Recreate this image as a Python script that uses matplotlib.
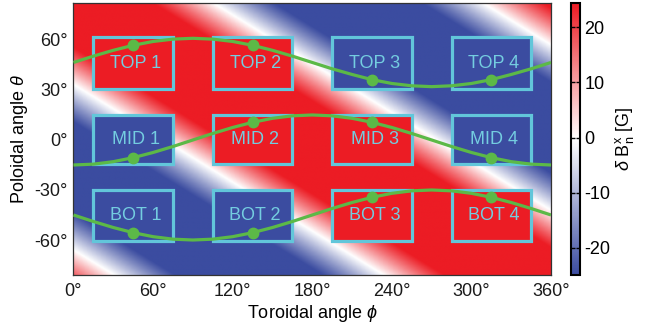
import numpy as np
import matplotlib
matplotlib.use('Agg')
import matplotlib.pyplot as plt
from matplotlib.colors import LinearSegmentedColormap
from matplotlib.patches import Rectangle

plt.rcParams['font.family'] = ['Liberation Sans', 'DejaVu Sans']
plt.rcParams['mathtext.fontset'] = 'custom'
plt.rcParams['mathtext.rm'] = 'Liberation Sans'
plt.rcParams['mathtext.it'] = 'Liberation Sans:italic'
plt.rcParams['axes.unicode_minus'] = False

# Données
coil_rows = ['TOP', 'MID', 'BOT']
coil_phi = [45, 135, 225, 315]                 # centres toroidaux des bobines
coil_theta_range = {'TOP': (30.5, 61.5), 'MID': (-14.5, 15.0), 'BOT': (-60.5, -30.0)}
coil_sign = {'TOP': [1, 1, -1, -1], 'MID': [-1, 1, 1, -1], 'BOT': [-1, -1, 1, 1]}
coil_half_width = 30

# courbes vertes (theta lu tous les 15 deg en phi)
curve_phi = list(range(0, 361, 15))
curve_top = [46.5, 50.3, 53.8, 56.8, 59.1, 60.5, 61.0, 60.5, 59.1, 56.8, 53.8, 50.3, 46.5,
             42.7, 39.3, 36.2, 33.9, 32.5, 32.0, 32.5, 33.9, 36.2, 39.3, 42.7, 46.5]
curve_mid = [-15.0, -14.5, -13.0, -10.6, -7.5, -3.9, 0.0, 3.9, 7.5, 10.6, 13.0, 14.5, 15.0,
             14.5, 13.0, 10.6, 7.5, 3.9, 0.0, -3.9, -7.5, -10.6, -13.0, -14.5, -15.0]
curve_bot = [-45.0, -48.9, -52.5, -55.6, -58.0, -59.5, -60.0, -59.5, -58.0, -55.6, -52.5, -48.9, -45.0,
             -41.1, -37.5, -34.4, -32.0, -30.5, -30.0, -30.5, -32.0, -34.4, -37.5, -41.1, -45.0]
curves = {'TOP': curve_top, 'MID': curve_mid, 'BOT': curve_bot}

# champ de fond : modele helicoidal ajuste sur les lignes blanches
field_amp = 38.0      # G
n_tor = 0.88
m_pol = 1.8
phase = -60.5         # deg
vmin, vmax = -25, 24.4

xticks = [0, 60, 120, 180, 240, 300, 360]
yticks = [-60, -30, 0, 30, 60]
cbar_ticks = [-20, -10, 0, 10, 20]

red = '#ec1c24'
blue = '#3b4ca0'
cyan = '#62c6da'
green = '#5cb947'

cmap = LinearSegmentedColormap.from_list('bwr_matlab', [blue, 'white', red])

phi_g = np.linspace(0, 360, 481)
theta_g = np.linspace(-82, 82, 330)
P, T = np.meshgrid(phi_g, theta_g)
B = field_amp * np.sin(np.radians(n_tor * P + m_pol * T + phase))

fig = plt.figure(figsize=(6.58, 3.26), dpi=100)
ax = fig.add_axes([0.1117, 0.1564, 0.7257, 0.8335])

im = ax.imshow(B, origin='lower', extent=[0, 360, -82, 82], aspect='auto',
               cmap=cmap, vmin=vmin, vmax=vmax, interpolation='bilinear', zorder=0)

for row in coil_rows:
    t0, t1 = coil_theta_range[row]
    for i, (pc, s) in enumerate(zip(coil_phi, coil_sign[row])):
        rect = Rectangle((pc - coil_half_width, t0), 2 * coil_half_width, t1 - t0,
                         facecolor=red if s > 0 else blue, edgecolor=cyan, lw=2.3, zorder=2)
        ax.add_patch(rect)
        ax.text(pc + 2, (t0 + t1) / 2, f'{row} {i + 1}', color='#74cde0', fontsize=13,
                ha='center', va='center', zorder=3)

for row in coil_rows:
    ax.plot(curve_phi, curves[row], color=green, lw=2.3, zorder=4, solid_capstyle='butt')
    idx = [curve_phi.index(p) for p in coil_phi]
    ax.plot(coil_phi, [curves[row][j] for j in idx], 'o', color=green, ms=7.5, zorder=5)

ax.set_xlim(0, 360)
ax.set_ylim(-81, 82)
ax.set_xticks(xticks)
ax.set_xticklabels([f'{v}°' for v in xticks])
ax.set_yticks(yticks)
ax.set_yticklabels([f'{v}°' for v in yticks])
ax.tick_params(length=0, labelsize=13, colors='#1a1a1a')
ax.tick_params(axis='x', pad=6)
ax.tick_params(axis='y', pad=4)
for sp in ax.spines.values():
    sp.set_linewidth(0.9)
    sp.set_color('#333333')
ax.set_xlabel(r'Toroidal angle $\phi$', fontsize=13, labelpad=2)
ax.set_ylabel(r'Poloidal angle $\theta$', fontsize=13, labelpad=3)

cax = fig.add_axes([0.8678, 0.1564, 0.0137, 0.8335])
cb = fig.colorbar(im, cax=cax, ticks=cbar_ticks)
cb.outline.set_linewidth(1.5)
cb.ax.tick_params(direction='in', left=True, right=True, length=3, width=1, labelsize=13, pad=3)
cb.set_label(r'$\delta\ \mathrm{B}^{\mathrm{x}}_{\mathrm{n}}$ [G]', fontsize=13, labelpad=2)

plt.savefig('out.png', dpi=100)
